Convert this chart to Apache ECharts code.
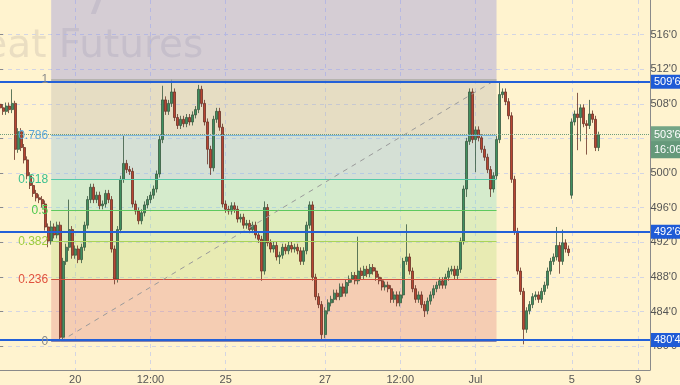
<!DOCTYPE html>
<html><head><meta charset="utf-8">
<script src="https://cdn.jsdelivr.net/npm/echarts@6/dist/echarts.min.js"></script>
<style>html,body{margin:0;padding:0;background:#fff3cf}#c{width:680px;height:385px}</style>
</head><body><div id="c"></div>
<script>
// ---- data ----
const opens = [507.2,506.8,506.4,507.0,506.6,507.3,502.1,504.1,502.3,500.9,499.1,498.0,497.1,496.6,496.4,495.9,493.3,491.7,493.3,492.4,
493.5,480.8,489.4,491.0,493.0,490.1,490.8,489.6,491.0,493.5,496.4,497.8,496.4,496.9,495.7,495.9,497.1,496.4,490.8,487.4,
493.0,498.7,500.5,499.8,499.6,495.9,495.1,494.0,494.9,495.8,496.4,496.9,497.6,499.3,503.2,507.7,506.4,507.3,508.6,505.7,
504.8,505.5,505.0,505.7,505.2,506.0,506.6,508.9,507.3,505.2,502.1,500.0,505.5,506.4,504.6,495.9,495.3,495.1,495.7,495.3,
494.2,494.4,493.5,493.7,493.0,493.5,492.4,491.9,488.3,495.5,491.5,490.8,491.2,489.9,490.1,491.0,490.6,491.2,490.8,491.0,
490.6,489.4,490.6,493.5,495.8,487.6,485.4,484.5,481.1,483.8,484.7,485.1,485.8,485.4,486.5,485.8,487.0,487.4,487.8,487.2,
488.3,487.8,488.5,488.0,488.7,488.3,487.6,487.2,486.5,486.7,486.3,485.1,485.6,484.7,485.6,489.4,489.9,488.3,486.3,485.1,
485.6,484.5,483.8,484.9,485.6,486.3,486.7,487.2,486.7,487.6,488.3,488.5,487.8,488.5,491.7,497.6,503.0,508.6,503.2,504.3,
503.4,502.1,501.2,499.8,497.6,499.1,503.2,508.3,508.6,507.5,505.9,498.7,492.8,488.3,486.0,481.7,483.8,484.5,485.4,485.6,
485.1,486.0,486.7,488.3,489.4,489.9,491.2,489.4,491.5,490.8,496.9,505.2,506.1,505.7,506.8,505.0,504.8,506.1,505.5,502.3];
const closes = [506.8,506.4,507.0,506.6,507.3,502.1,504.1,502.3,500.9,499.1,498.0,497.1,496.6,496.4,495.9,493.3,491.7,493.3,492.4,493.5,
480.8,489.4,491.0,493.0,490.1,490.8,489.6,491.0,493.5,496.4,497.8,496.4,496.9,495.7,495.9,497.1,496.4,490.8,487.4,493.0,
498.7,500.5,499.8,499.6,495.9,495.1,494.0,494.9,495.8,496.4,496.9,497.6,499.3,503.2,507.7,506.4,507.3,508.6,505.7,504.8,
505.5,505.0,505.7,505.2,506.0,506.6,508.9,507.3,505.2,502.1,500.0,505.5,506.4,504.6,495.9,495.3,495.1,495.7,495.3,494.2,
494.4,493.5,493.7,493.0,493.5,492.4,491.9,488.3,495.5,491.5,490.8,491.2,489.9,490.1,491.0,490.6,491.2,490.8,491.0,490.6,
489.4,490.6,493.5,495.8,487.6,485.4,484.5,481.1,483.8,484.7,485.1,485.8,485.4,486.5,485.8,487.0,487.4,487.8,487.2,488.3,
487.8,488.5,488.0,488.7,488.3,487.6,487.2,486.5,486.7,486.3,485.1,485.6,484.7,485.6,489.4,489.9,488.3,486.3,485.1,485.6,
484.5,483.8,484.9,485.6,486.3,486.7,487.2,486.7,487.6,488.3,488.5,487.8,488.5,491.7,497.6,503.0,508.6,503.2,504.3,503.4,
502.1,501.2,499.8,497.6,499.1,503.2,508.3,508.6,507.5,505.9,498.7,492.8,488.3,486.0,481.7,483.8,484.5,485.4,485.6,485.1,
486.0,486.7,488.3,489.4,489.9,491.2,489.4,491.5,490.8,490.4,505.2,506.1,505.7,506.8,505.0,504.8,506.1,505.5,502.3,503.75];
const lows = [506.4,506.0,506.0,506.2,506.2,500.9,501.7,501.9,500.5,498.7,497.6,496.7,496.2,496.0,495.5,492.9,491.0,491.3,492.0,492.0,
480.4,480.4,489.0,490.6,489.7,489.7,489.2,489.2,490.6,493.1,496.0,496.0,496.0,495.3,495.3,495.5,496.0,490.4,486.8,487.0,
492.6,498.3,499.4,499.2,495.5,494.7,493.6,493.6,494.5,495.4,496.0,496.5,497.2,498.9,502.8,506.0,506.0,506.9,505.3,504.4,
504.4,504.6,504.6,504.8,504.8,505.6,506.2,506.9,504.8,500.4,499.2,499.6,505.1,504.2,495.5,494.9,494.7,494.7,494.9,493.8,
493.8,493.1,493.1,492.6,492.6,492.0,491.5,487.2,487.9,491.1,490.4,490.4,489.5,489.1,489.7,490.2,490.2,490.4,490.4,490.2,
489.0,489.0,490.2,493.1,487.2,485.0,484.1,480.4,480.7,483.4,484.3,484.7,485.0,485.0,485.4,485.4,486.6,487.0,486.8,486.8,
487.4,487.4,487.6,487.6,487.9,487.2,486.8,486.1,486.1,485.9,484.7,484.7,484.3,484.3,485.2,489.0,487.9,485.9,484.7,484.7,
484.1,483.1,483.4,484.5,485.2,485.9,486.3,486.3,486.3,487.2,487.9,487.4,487.4,488.1,491.3,496.7,502.6,502.8,499.5,503.0,
501.7,500.8,499.4,496.7,497.2,498.7,502.8,507.9,507.1,505.5,498.3,492.4,487.9,485.6,480.0,481.3,483.4,484.1,485.0,484.7,
484.7,485.6,486.3,487.9,489.0,489.5,488.0,489.0,490.4,490.0,496.5,504.8,502.0,503.0,504.6,501.5,504.4,505.1,501.9,501.9];
const highs = [507.6,507.2,507.4,507.4,508.9,507.6,504.5,504.5,502.7,501.3,499.5,498.4,497.5,497.0,496.8,496.3,493.7,494.0,493.7,493.9,
493.9,489.8,491.4,496.4,493.4,491.2,491.2,491.4,493.9,496.8,498.2,498.2,497.3,497.3,496.3,497.5,497.5,496.8,491.2,493.4,
499.1,503.6,500.9,500.2,500.0,496.3,495.5,495.3,496.2,496.8,497.3,498.0,499.7,503.6,509.3,508.1,507.7,510.0,509.0,506.1,
505.9,505.9,506.1,506.1,506.4,507.0,509.4,509.3,507.7,505.6,502.5,505.9,506.8,506.8,505.0,496.3,495.7,496.1,496.1,495.7,
494.8,494.8,494.1,494.1,493.9,493.9,492.8,492.3,496.2,495.9,491.9,491.6,491.6,490.5,491.4,491.4,491.6,491.6,491.4,491.4,
491.0,491.0,493.9,496.2,496.2,488.0,485.8,484.9,484.2,485.1,485.5,486.2,486.2,486.9,486.9,487.4,487.8,488.2,488.2,492.2,
488.7,488.9,488.9,489.1,489.1,488.7,488.0,487.6,487.1,487.1,486.7,486.0,486.0,486.0,489.8,493.6,490.3,488.7,486.7,486.0,
486.0,484.9,485.3,486.0,486.7,487.1,487.6,487.6,488.0,488.7,488.9,488.9,488.9,492.1,498.0,503.4,509.0,509.0,504.7,504.7,
503.8,502.5,501.6,500.2,499.5,503.6,509.75,509.0,509.0,507.9,506.3,499.1,493.2,488.7,486.4,484.2,484.9,485.8,486.0,486.0,
486.4,487.1,488.7,489.8,490.3,493.3,491.6,493.0,491.9,491.2,505.6,506.5,508.5,507.2,507.2,505.4,507.7,506.5,505.9,504.1];

const slotCount = 217;
const xTickIndex = [25, 50, 75, 108, 133, 158, 190, 212];
const xTickText = ['20', '12:00', '25', '27', '12:00', 'Jul', '5', '9'];

const fibLevels = [0, 0.236, 0.382, 0.5, 0.618, 0.786, 1];
const fibLabels = ['0', '0.236', '0.382', '0.5', '0.618', '0.786', '1'];
const fibLow = 480.33, fibHigh = 510.03;
const fibFromIdx = 17, fibToIdx = 165, fibTrendFromIdx = 20;

const levelLines = [509.75, 492.75, 480.5];
const lastPrice = 503.75;
const countdown = '16:06';

// ---- styles ----
const FONT = '"Liberation Sans", Arial, sans-serif';
const fibLineColors = ['#8d84a6', '#d0503f', '#a9d458', '#5ec95e', '#55caa8', '#7fb6dc', '#a7a7a7'];
const fibTextColors = ['#8a8a8a', '#e0523f', '#9ccc3c', '#4cc84c', '#3cc090', '#5aa6d8', '#8a8a8a'];
const fibZoneColors = ['rgba(222,120,117,0.3)', 'rgba(178,220,117,0.3)', 'rgba(152,226,150,0.3)',
  'rgba(115,220,200,0.3)', 'rgba(115,183,230,0.3)', 'rgba(172,173,170,0.3)', 'rgba(115,120,224,0.3)'];
const Y0MIN = 477.09, Y0MAX = 519.02;
const GRID_COLOR = '#d3d5e3';

const fmt = v => { const i = Math.floor(v + 1e-9); return i + "'" + Math.round((v - i) * 8); };
const fibPrice = l => fibLow + (fibHigh - fibLow) * l;

const categories = Array.from({length: slotCount}, (_, i) => 's' + i);
const candleData = opens.map((o, i) => [o, closes[i], lows[i], highs[i]]);

const zoneData = [];
for (let k = 0; k < fibLevels.length; k++) {
  const y1 = fibPrice(fibLevels[k]);
  const y2 = k + 1 < fibLevels.length ? fibPrice(fibLevels[k + 1]) : Y0MAX;
  zoneData.push([{xAxis: fibFromIdx, yAxis: y1, itemStyle: {color: fibZoneColors[k]}}, {xAxis: fibToIdx, yAxis: y2}]);
}
const fibLineData = fibLevels.map((l, k) => [
  {coord: [fibFromIdx, fibPrice(l)], lineStyle: {color: fibLineColors[k], width: k === 6 ? 1.5 : 1, type: 'solid'},
   label: {show: true, position: 'start', distance: 3, formatter: fibLabels[k], color: fibTextColors[k], fontSize: 12, fontFamily: FONT}},
  {coord: [fibToIdx, fibPrice(l)]}
]);
fibLineData.push([
  {coord: [fibTrendFromIdx, fibLow], lineStyle: {color: '#9a9a9a', width: 1, type: [5, 5]}, label: {show: false}},
  {coord: [fibToIdx, fibHigh]}
]);

const blueLineData = levelLines.map(v => ({
  yAxis: v,
  label: {show: true, position: 'end', distance: 1, formatter: fmt(v), color: '#fff', backgroundColor: '#1f5bd6',
    padding: [2, 3, 1, 3], fontSize: 11, fontFamily: FONT}
}));
blueLineData.push({
  yAxis: lastPrice,
  lineStyle: {color: '#6e9e7c', type: 'dotted', width: 1},
  label: {show: true, position: 'end', distance: 1, fontFamily: FONT,
    formatter: '{e| }\n{a|' + fmt(lastPrice) + '}\n{b|' + countdown + '}',
    rich: {
      e: {height: 15, lineHeight: 15, fontSize: 11},
      a: {color: '#fff', backgroundColor: '#74a586', fontSize: 11, padding: [2, 3, 1, 3], lineHeight: 15, height: 14},
      b: {color: '#fff', backgroundColor: '#65997a', fontSize: 11, padding: [2, 2, 1, 3], lineHeight: 15, height: 14}
    }}
});

const chart = echarts.init(document.getElementById('c'), null, {renderer: 'canvas'});
chart.setOption({
  animation: false,
  backgroundColor: '#fff3cf',
  textStyle: {fontFamily: FONT},
  graphic: [
    {type: 'text', z: 0, silent: true,
     style: {x: -80, y: 27, verticalAlign: 'top', text: 'Wheat Futures', font: '39px "DejaVu Sans", sans-serif', fill: 'rgba(95,85,110,0.13)'}},
    {type: 'text', z: 0, silent: true,
     style: {x: 82, y: -22, verticalAlign: 'top', text: '7', font: '48px "DejaVu Sans", sans-serif', fill: 'rgba(95,85,110,0.13)'}}
  ],
  grid: [
    {left: 0, right: 30, top: 0, bottom: 14},
    {left: 0, right: 30, top: -8.7, bottom: 4.3}
  ],
  xAxis: [
    {type: 'category', gridIndex: 0, data: categories, boundaryGap: false,
     axisLine: {show: true, lineStyle: {color: '#8a8a8a', width: 1}},
     axisTick: {show: false},
     axisLabel: {interval: (i) => xTickIndex.includes(i), margin: 4, color: '#555', fontSize: 11,
       formatter: (v, i) => { const k = xTickIndex.indexOf(i); return k >= 0 ? xTickText[k] : ''; }},
     splitLine: {show: true, interval: (i) => xTickIndex.includes(i), lineStyle: {color: GRID_COLOR, type: [4, 4], width: 1}}},
    {type: 'value', gridIndex: 1, min: 0, max: 1, show: false}
  ],
  yAxis: [
    {type: 'value', gridIndex: 0, position: 'right', min: Y0MIN, max: Y0MAX, scale: true,
     axisLine: {show: true, lineStyle: {color: '#8a8a8a', width: 1}},
     axisTick: {show: false}, axisLabel: {show: false}, splitLine: {show: false}},
    {type: 'value', gridIndex: 1, position: 'right', min: 476, max: 520, interval: 4,
     axisLine: {show: false},
     axisTick: {show: true, length: 3, lineStyle: {color: '#8a8a8a'}},
     axisLabel: {show: true, formatter: fmt, color: '#555', fontSize: 11, margin: 4, showMinLabel: false, showMaxLabel: false},
     splitLine: {show: true, showMinLine: false, showMaxLine: false, lineStyle: {color: GRID_COLOR, type: [4, 4], width: 1}}}
  ],
  series: [
    {type: 'line', name: 'fibZones', xAxisIndex: 0, yAxisIndex: 0, data: [], z: 1, silent: true,
     markArea: {silent: true, data: zoneData}},
    {type: 'line', name: 'fibLines', xAxisIndex: 0, yAxisIndex: 0, data: [], z: 2, silent: true,
     markLine: {silent: true, symbol: ['none', 'none'], data: fibLineData}},
    {type: 'candlestick', name: 'ZW', xAxisIndex: 0, yAxisIndex: 0, data: candleData, z: 3, barWidth: 2.5,
     itemStyle: {color: '#3f8f5f', color0: '#b84532', borderColor: '#37583f', borderColor0: '#6a3126', borderWidth: 0.8}},
    {type: 'line', name: 'levels', xAxisIndex: 0, yAxisIndex: 0, data: [], z: 4, silent: true,
     markLine: {silent: true, symbol: ['none', 'none'], lineStyle: {color: '#2360d8', width: 2, type: 'solid'}, data: blueLineData}}
  ]
});
</script></body></html>
